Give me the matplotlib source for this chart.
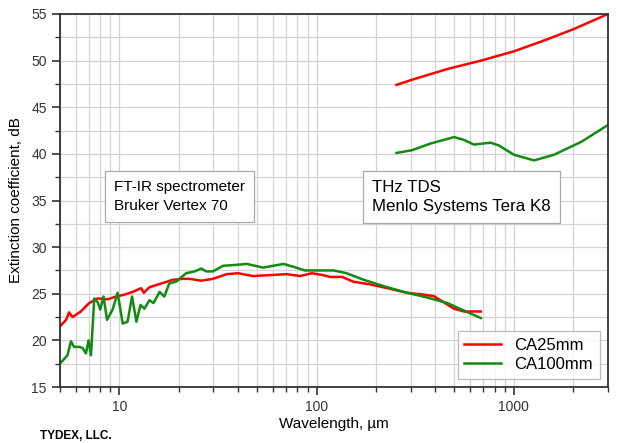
import matplotlib
matplotlib.use("Agg")
import matplotlib.pyplot as plt
from matplotlib.ticker import LogLocator, FixedLocator, NullFormatter, FuncFormatter

plt.rcParams['font.family'] = ['Liberation Sans', 'DejaVu Sans']

# FT-IR range, CA25mm
ftir_wl_25 = [5, 5.37, 5.56, 5.79, 6.38, 7.03, 7.76, 8.72, 9.62, 10.6, 11.7, 12.9, 13.3,
              14.2, 16.3, 18.7, 21.0, 22.7, 26.0, 29.8, 35.0, 40, 47.5, 58, 70.5, 82.5,
              94.5, 108, 117, 135, 153, 187, 228, 288, 336, 392, 440, 497, 558, 680]
ftir_val_25 = [21.5, 22.2, 23.0, 22.5, 23.1, 24.0, 24.5, 24.4, 24.7, 24.9, 25.2, 25.6, 25.1,
               25.7, 26.1, 26.5, 26.6, 26.6, 26.4, 26.6, 27.1, 27.2, 26.9, 27.0, 27.1, 26.9,
               27.2, 27.0, 26.8, 26.8, 26.3, 26.0, 25.6, 25.1, 24.95, 24.75, 24.1, 23.4, 23.1, 23.1]

# FT-IR range, CA100mm
ftir_wl_100 = [5, 5.46, 5.68, 5.9, 6.26, 6.5, 6.77, 6.98, 7.18, 7.46, 7.76, 8.0, 8.32, 8.66,
               9.24, 9.8, 10.4, 11.0, 11.6, 12.2, 12.8, 13.4, 14.2, 14.9, 16.0, 16.9, 17.9,
               19.4, 21.8, 24.1, 26.0, 27.6, 29.8, 33.6, 39.3, 44.2, 53.6, 60.3, 67.9, 76.0,
               87.2, 104, 122, 142, 173, 228, 288, 363, 460, 558, 680]
ftir_val_100 = [17.5, 18.4, 19.9, 19.3, 19.3, 19.2, 18.6, 20.0, 18.4, 24.5, 24.1, 23.3, 24.7,
                22.2, 23.3, 25.1, 21.8, 22.0, 24.7, 22.0, 23.8, 23.4, 24.3, 24.0, 25.2, 24.7,
                26.1, 26.3, 27.2, 27.4, 27.7, 27.4, 27.4, 28.0, 28.1, 28.2, 27.8, 28.0, 28.2,
                27.9, 27.5, 27.5, 27.5, 27.2, 26.5, 25.7, 25.1, 24.6, 24.0, 23.2, 22.4]

# THz TDS range
thz_wl_25 = [254, 310, 460, 680, 1002, 1484, 2020, 3000]
thz_val_25 = [47.4, 48.0, 49.1, 50.0, 51.0, 52.3, 53.4, 55.0]

thz_wl_100 = [254, 305, 377, 497, 558, 627, 762, 840, 1002, 1266, 1595, 2200, 3000]
thz_val_100 = [40.1, 40.4, 41.1, 41.8, 41.5, 41.0, 41.2, 40.9, 39.9, 39.3, 39.9, 41.3, 43.1]

red = '#ff0000'
green = '#138a13'

fig = plt.figure(figsize=(6.17, 4.43), dpi=100)
ax = fig.add_axes([0.0972, 0.1264, 0.8882, 0.842])

ax.plot(ftir_wl_25, ftir_val_25, color=red, lw=1.8, label='CA25mm')
ax.plot(ftir_wl_100, ftir_val_100, color=green, lw=1.8, label='CA100mm')
ax.plot(thz_wl_25, thz_val_25, color=red, lw=1.8)
ax.plot(thz_wl_100, thz_val_100, color=green, lw=1.8)

ax.set_xscale('log')
ax.set_xlim(5, 3000)
ax.set_ylim(15, 55)
ax.xaxis.set_major_locator(FixedLocator([10, 100, 1000]))
ax.xaxis.set_major_formatter(FuncFormatter(lambda v, p: '%d' % v))
ax.xaxis.set_minor_locator(LogLocator(base=10, subs=range(2, 10), numticks=20))
ax.xaxis.set_minor_formatter(NullFormatter())
ax.set_yticks(range(15, 56, 5))
ax.set_yticks([17.5 + 5 * i for i in range(8)], minor=True)

ax.grid(True, which='both', color='#d3d3d3', lw=0.9)
ax.set_axisbelow(True)
ax.tick_params(which='major', direction='out', length=6, width=1.2, labelsize=10, colors='#333333')
ax.tick_params(which='minor', direction='out', length=3.5, width=1.0, colors='#333333')
for s in ax.spines.values():
    s.set_color('#333333')
    s.set_linewidth(1.3)

ax.set_xlabel('Wavelength, µm', fontsize=11, labelpad=2)
ax.set_ylabel('Extinction coefficient, dB', fontsize=11, labelpad=6)

box = dict(boxstyle='square,pad=0.6', fc='white', ec='#aaaaaa', lw=0.9)
ax.text(9.4, 35.4, 'FT-IR spectrometer\nBruker Vertex 70', fontsize=11,
        va='center', ha='left', bbox=box, linespacing=1.45)
box2 = dict(boxstyle='square,pad=0.55', fc='white', ec='#aaaaaa', lw=0.9)
ax.text(191, 35.4, 'THz TDS\nMenlo Systems Tera K8', fontsize=12.2,
        va='center', ha='left', bbox=box2, linespacing=1.3)

leg = ax.legend(loc='lower right', fontsize=12, frameon=True, fancybox=False,
                edgecolor='#aaaaaa', handlelength=2.2, borderaxespad=0.5,
                labelspacing=0.25)
leg.get_frame().set_linewidth(0.9)

fig.text(0.065, 0.008, 'TYDEX, LLC.', fontsize=8.5, fontweight='bold')

fig.savefig('out.png', dpi=100)
